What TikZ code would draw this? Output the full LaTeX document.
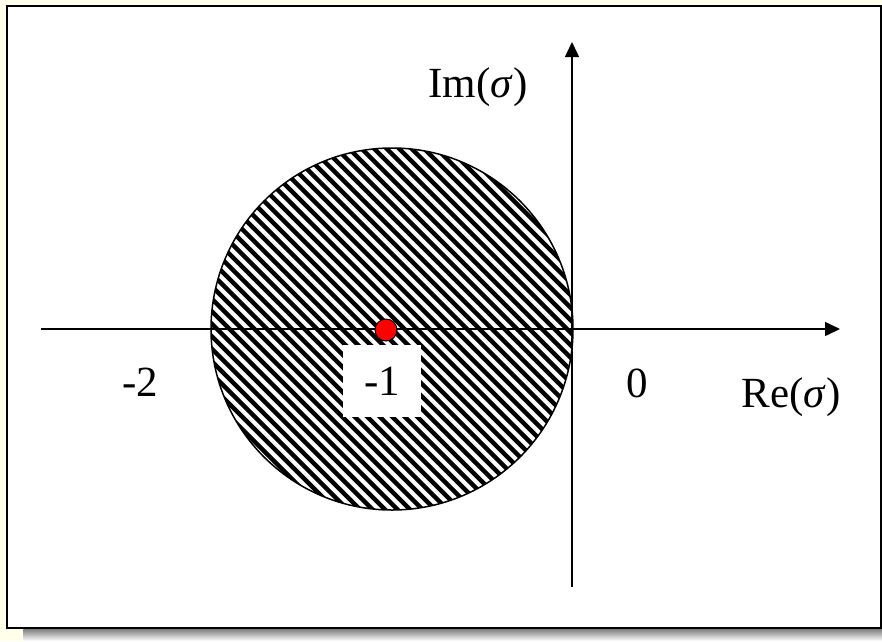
\documentclass[tikz,border=0pt]{standalone}
\usepackage{fontspec}
\setmainfont{Liberation Serif}
\usetikzlibrary{arrows.meta}
\definecolor{paper}{RGB}{255,255,234}
\definecolor{shade}{RGB}{128,128,128}
\begin{document}
\begin{tikzpicture}[
    x=1pt, y=-1pt,
    font=\fontsize{43}{50}\selectfont,
    axis/.style={line width=1.5pt, -{Triangle[length=15pt, width=14pt]}},
    hatch/.style={line width=4.4pt},
    label/.style={inner sep=0pt},
    pole/.style={circle, draw, line width=1pt, fill=red, minimum size=22pt, inner sep=0pt}
]
    % slide frame
    \fill[paper] (0,0) rectangle (882,641);
    \fill[shade] (23,629) rectangle (882,641);
    \draw[line width=2pt, fill=white] (7,6) rectangle (881,628);

    % hatched disc
    \coordinate (c) at (392,329);
    \begin{scope}
        \clip (c) circle[radius=181];
        \foreach \k in {-22,...,22}
            \draw[hatch] (192+\k*12.5,129) -- (592+\k*12.5,529);
    \end{scope}
    \draw[line width=1.5pt] (c) circle[radius=181];

    % axes
    \coordinate (xl) at (41,329);
    \coordinate (xr) at (840,329);
    \coordinate (yb) at (572,587);
    \coordinate (yt) at (572,42);
    \draw[axis] (xl) -- (xr);
    \draw[axis] (yb) -- (yt);

    \node[label] (m2) at (140,382) {-2};
    \node[label, fill=white, minimum width=78pt, minimum height=72pt] (m1) at (382,381) {-1};
    \node[label] (zero) at (637,383) {0};
    \node[label] (re) at (791,397) {Re(\textit{σ})};
    \node[label] (im) at (478,87) {Im(\textit{σ})};
    \node[pole] (p) at (386,330) {};
\end{tikzpicture}
\end{document}
